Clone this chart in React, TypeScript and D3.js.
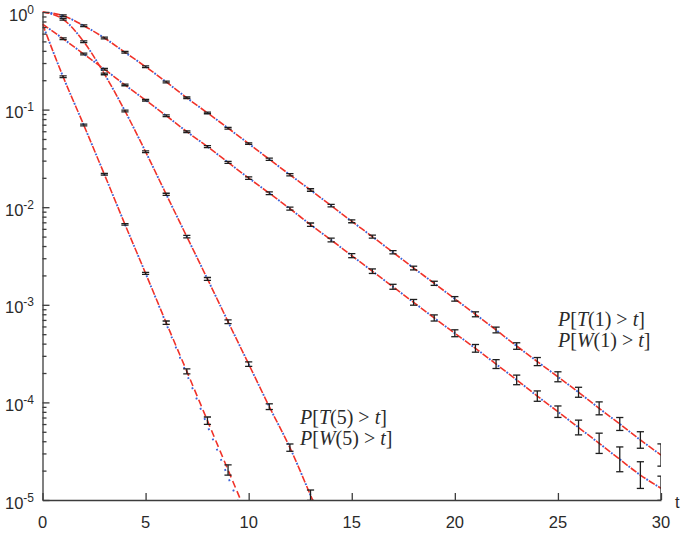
import React, { useEffect, useRef } from 'react';
import * as d3 from 'd3';

// survival probabilities, index = t
const tOneVals = [1.0, 0.916, 0.724, 0.542, 0.386, 0.275, 0.192, 0.132, 0.0925, 0.0645, 0.0448, 0.031, 0.0215, 0.015, 0.01037, 0.00717, 0.00499, 0.00345, 0.00238, 0.00166, 0.00115, 0.000799, 0.000552, 0.000378, 0.000262, 0.000183, 0.000127, 0.0000869, 0.0000601, 0.0000412, 0.0000289];
const wOneVals = [0.753, 0.532, 0.371, 0.259, 0.179, 0.125, 0.0866, 0.0594, 0.0417, 0.0288, 0.0199, 0.0139, 0.00966, 0.00662, 0.00461, 0.00319, 0.00221, 0.00153, 0.00106, 0.000733, 0.000511, 0.000358, 0.000247, 0.00017, 0.000116, 0.0000803, 0.0000553, 0.0000381, 0.0000261, 0.000018, 0.0000132];
const tFiveVals = [1.0, 0.842, 0.496, 0.232, 0.0968, 0.037, 0.01356, 0.00499, 0.00184, 0.000671, 0.000247, 0.0000904, 0.0000344, 0.0000112, 0.0000036];
const wFiveVals = [0.753, 0.217, 0.0695, 0.0217, 0.00667, 0.0021, 0.000656, 0.000208, 0.000065, 0.0000203, 0.0000064];
// dotted (blue) curve for W(5) drifts a bit below the dashed one in the tail
const wFiveBlue = [0.753, 0.217, 0.0695, 0.0217, 0.00667, 0.0021, 0.00064, 0.000194, 0.0000577, 0.0000172, 0.0000052];

// relative half-width of the error bars
const tOneErr = [0, 0.02, 0.02, 0.02, 0.02, 0.02, 0.02, 0.02, 0.02, 0.02, 0.02, 0.025, 0.025, 0.03, 0.03, 0.035, 0.035, 0.04, 0.045, 0.05, 0.055, 0.06, 0.07, 0.08, 0.1, 0.125, 0.125, 0.165, 0.165, 0.215, 0.3];
const wOneErr = [0, 0.02, 0.02, 0.02, 0.02, 0.02, 0.02, 0.02, 0.025, 0.025, 0.03, 0.035, 0.035, 0.04, 0.045, 0.05, 0.055, 0.06, 0.07, 0.075, 0.085, 0.095, 0.11, 0.12, 0.13, 0.145, 0.19, 0.27, 0.34, 0.37, 0.33];
const tFiveErr = [0, 0.02, 0.02, 0.02, 0.02, 0.02, 0.025, 0.03, 0.035, 0.045, 0.055, 0.07, 0.09, 0.13, 0];
const wFiveErr = [0, 0.02, 0.02, 0.02, 0.02, 0.025, 0.04, 0.06, 0.09, 0.13, 0];

const xTicks = [0, 5, 10, 15, 20, 25, 30];
const yExps = [0, -1, -2, -3, -4, -5];

const W = 685;
const H = 534;

const App = () => {
  const ref = useRef<SVGSVGElement>(null);

  useEffect(() => {
    const svg = d3.select(ref.current);
    svg.selectAll('*').remove();

    const x = d3.scaleLinear().domain([0, 30]).range([42.5, 661]);
    const y = d3.scaleLog().domain([1e-5, 1]).range([500, 12]);
    const axisCol = '#3c3c3c';

    svg.append('defs').append('clipPath').attr('id', 'plotclip')
      .append('rect').attr('x', 42.5).attr('y', 4).attr('width', 661 - 42.5).attr('height', 496);

    const plot = svg.append('g').attr('clip-path', 'url(#plotclip)');

    const line = d3.line<number>()
      .x((_, i) => x(i))
      .y((d) => y(d))
      .curve(d3.curveMonotoneX);

    const curves = [
      { red: tOneVals, blue: tOneVals, err: tOneErr },
      { red: wOneVals, blue: wOneVals, err: wOneErr },
      { red: tFiveVals, blue: tFiveVals, err: tFiveErr },
      { red: wFiveVals, blue: wFiveBlue, err: wFiveErr },
    ];

    // red dashes with the blue dots sitting in the gaps
    curves.forEach((c) => {
      plot.append('path').attr('d', line(c.red))
        .attr('fill', 'none').attr('stroke', '#f0322a').attr('stroke-width', 1.6)
        .attr('stroke-dasharray', '7,4');
      plot.append('path').attr('d', line(c.blue))
        .attr('fill', 'none').attr('stroke', '#3c62d8').attr('stroke-width', 1.9)
        .attr('stroke-dasharray', '1.8,9.2').attr('stroke-dashoffset', -8.1);
    });

    // error bars
    curves.forEach((c) => {
      c.red.forEach((v, i) => {
        const e = c.err[i];
        if (!e) return;
        const y0 = y(v * (1 + e));
        const y1 = y(v / (1 + e));
        if (y0 > 500) return;
        const cx = x(i);
        const g = plot.append('g').attr('stroke', '#1e1e1e').attr('stroke-width', 1.3);
        g.append('line').attr('x1', cx).attr('x2', cx).attr('y1', y0).attr('y2', y1);
        g.append('line').attr('x1', cx - 3.6).attr('x2', cx + 3.6).attr('y1', y0).attr('y2', y0);
        g.append('line').attr('x1', cx - 3.6).attr('x2', cx + 3.6).attr('y1', y1).attr('y2', y1);
      });
    });

    // axes, ticks pointing inward
    const minor: number[] = [];
    yExps.slice(1).forEach((e) => {
      for (let k = 2; k <= 9; k++) minor.push(k * Math.pow(10, e));
    });

    const yAxisG = svg.append('g').attr('transform', `translate(${x(0)},0)`);
    yAxisG.call(d3.axisRight(y).tickValues(yExps.map((e) => Math.pow(10, e))).tickSize(7).tickSizeOuter(0).tickFormat(() => ''));
    yAxisG.append('g').call(d3.axisRight(y).tickValues(minor).tickSize(4).tickSizeOuter(0).tickFormat(() => ''))
      .select('.domain').remove();

    const xAxisG = svg.append('g').attr('transform', `translate(0,${y(1e-5)})`);
    xAxisG.call(d3.axisTop(x).tickValues(xTicks).tickSize(7).tickSizeOuter(0).tickFormat(() => ''));

    svg.selectAll('.domain, .tick line').attr('stroke', axisCol).attr('stroke-width', 1.3);

    // tick labels
    const lab = svg.append('g').attr('font-family', 'Liberation Sans, Arial, sans-serif').attr('fill', '#2a2a2a');
    yExps.forEach((e) => {
      const t = lab.append('text').attr('x', 34).attr('y', y(Math.pow(10, e)) + 8.5).attr('text-anchor', 'end').attr('font-size', 16.5);
      t.append('tspan').text('10');
      t.append('tspan').attr('dy', -7).attr('font-size', 12).text(String(e));
    });
    xTicks.forEach((v) => {
      lab.append('text').attr('x', x(v)).attr('y', 528).attr('text-anchor', 'middle').attr('font-size', 16.5).text(v);
    });
    lab.append('text').attr('x', 675).attr('y', 508).attr('font-size', 16.5).text('t');

    // curve annotations
    const notes = [
      { x: 558, y: 326, name: 'T', k: '1' },
      { x: 558, y: 347, name: 'W', k: '1' },
      { x: 300, y: 424, name: 'T', k: '5' },
      { x: 300, y: 445, name: 'W', k: '5' },
    ];
    notes.forEach((n) => {
      const t = svg.append('text').attr('x', n.x).attr('y', n.y)
        .attr('font-family', 'Liberation Serif, Times New Roman, serif').attr('font-size', 20).attr('fill', '#2a2a2a');
      t.append('tspan').attr('font-style', 'italic').text('P');
      t.append('tspan').text('[');
      t.append('tspan').attr('font-style', 'italic').text(n.name);
      t.append('tspan').text(`(${n.k})`);
      t.append('tspan').attr('dx', 5).text('>');
      t.append('tspan').attr('dx', 5).attr('font-style', 'italic').text('t');
      t.append('tspan').text(']');
    });
  }, []);

  return (
    <svg ref={ref} width={W} height={H}
      style={{ position: 'absolute', left: 0, top: 0, background: '#fff' }} />
  );
};

export default App;
